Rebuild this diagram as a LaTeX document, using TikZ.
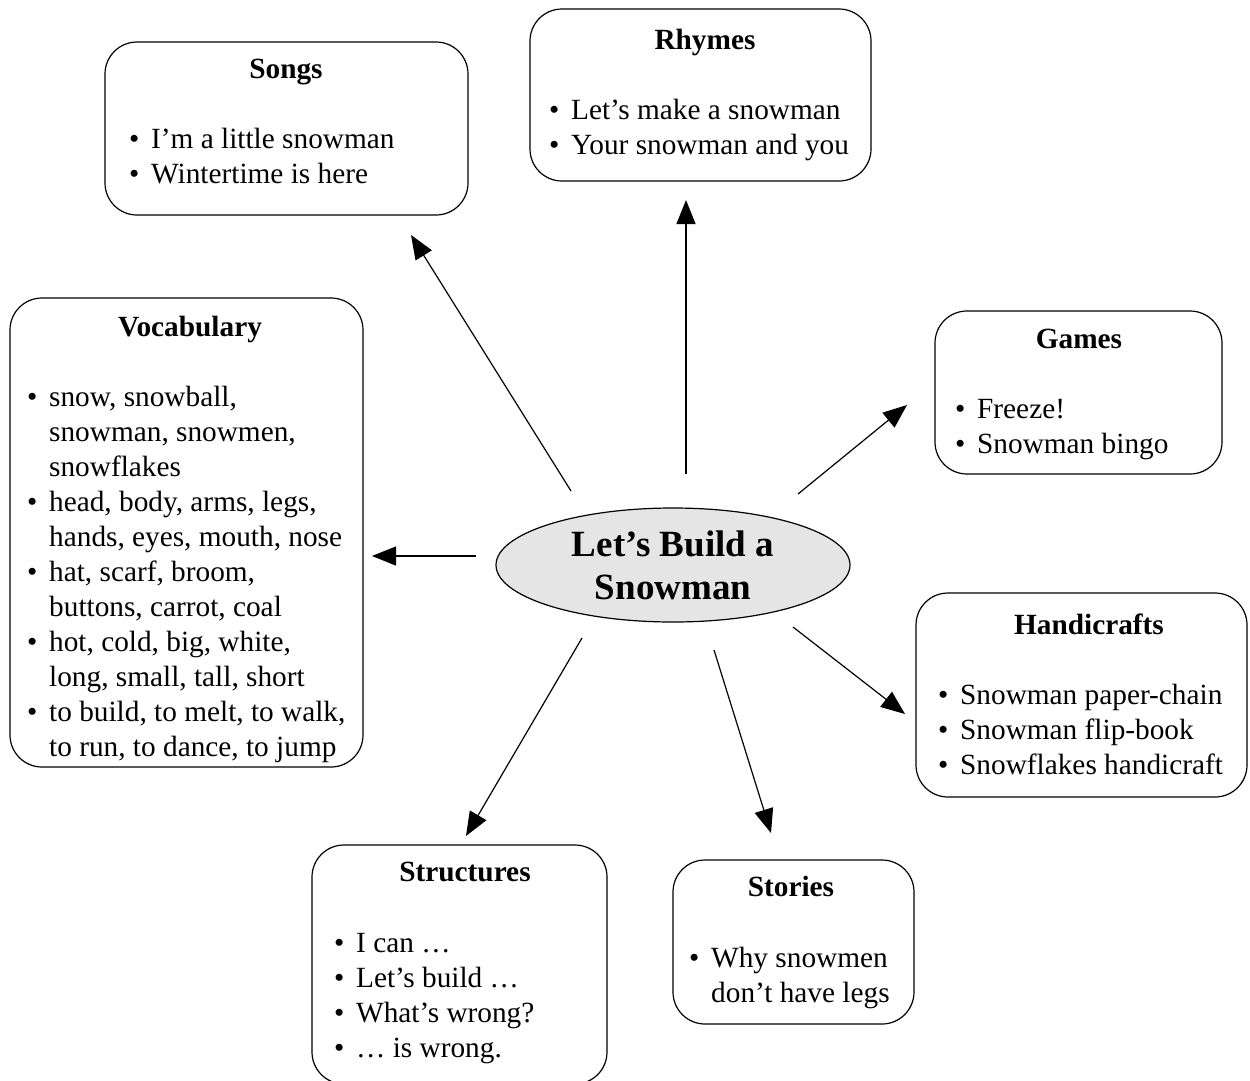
\documentclass[tikz,border=0pt]{standalone}
\usepackage{fontspec}
\setmainfont{Liberation Serif}
\usetikzlibrary{arrows.meta,shapes.geometric}
\newcommand\itm{\makebox[22pt][l]{•}}
\newcommand\cnt{\hspace*{22pt}}
\tikzset{
  every node/.style={font=\fontsize{29.3}{35}\selectfont, inner sep=0pt},
  box/.style={draw, line width=1.2pt, rounded corners=32pt, fill=white},
  ttl/.style={anchor=base, font=\fontsize{29.3}{35}\selectfont\bfseries},
  lst/.style={anchor=base west, align=left},
  arr/.style={line width=1.2pt, -{Triangle[length=24pt,width=19pt]}},
}
\begin{document}
\begin{tikzpicture}[x=1pt,y=-1pt]
\path[use as bounding box, clip] (0,0) rectangle (1250,1080);
\fill[white] (0,0) rectangle (1250,1080);

% Songs
\node[box, minimum width=363pt, minimum height=173pt] (songs) at (286.5,128.5) {};
\node[ttl] (songsT) at (286,78) {Songs};
\node[lst] (songsL) at (129,183) {\itm I’m a little snowman\\\itm Wintertime is here};

% Rhymes
\node[box, minimum width=341pt, minimum height=172pt] (rhymes) at (700.5,95) {};
\node[ttl] (rhymesT) at (705,49) {Rhymes};
\node[lst] (rhymesL) at (549,154) {\itm Let’s make a snowman\\\itm Your snowman and you};

% Vocabulary
\node[box, minimum width=353pt, minimum height=469pt] (vocab) at (186.5,532.5) {};
\node[ttl] (vocabT) at (190,336) {Vocabulary};
\node[lst] (vocabL) at (27,756) {\itm snow, snowball,\\\cnt snowman, snowmen,\\\cnt snowflakes\\\itm head, body, arms, legs,\\\cnt hands, eyes, mouth, nose\\\itm hat, scarf, broom,\\\cnt buttons, carrot, coal\\\itm hot, cold, big, white,\\\cnt long, small, tall, short\\\itm to build, to melt, to walk,\\\cnt to run, to dance, to jump};

% Games
\node[box, minimum width=287pt, minimum height=163pt] (games) at (1078.5,392.5) {};
\node[ttl] (gamesT) at (1079,348) {Games};
\node[lst] (gamesL) at (955,453) {\itm Freeze!\\\itm Snowman bingo};

% Handicrafts
\node[box, minimum width=331pt, minimum height=204pt] (handi) at (1081.5,695) {};
\node[ttl] (handiT) at (1089,634) {Handicrafts};
\node[lst] (handiL) at (938,774) {\itm Snowman paper-chain\\\itm Snowman flip-book\\\itm Snowflakes handicraft};

% Structures
\node[box, minimum width=295pt, minimum height=239pt] (struct) at (459.5,964.5) {};
\node[ttl] (structT) at (465,881) {Structures};
\node[lst] (structL) at (334,1057) {\itm I can …\\\itm Let’s build …\\\itm What’s wrong?\\\itm … is wrong.};

% Stories
\node[box, minimum width=241pt, minimum height=164pt] (stories) at (793.5,942) {};
\node[ttl] (storiesT) at (791,896) {Stories};
\node[lst] (storiesL) at (689,1002) {\itm Why snowmen\\\cnt don’t have legs};

% Centre
\node[ellipse, draw, line width=1.2pt, fill=black!10, minimum width=354pt, minimum height=114pt,
      align=center, font=\fontsize{37}{43}\selectfont\bfseries] (centre) at (673,565) {Let’s Build a\\Snowman};

% Arrow end points
\coordinate (sSongs) at (571,491);   \coordinate (eSongs) at (411,235);
\coordinate (sRhymes) at (686,474);  \coordinate (eRhymes) at (686,200);
\coordinate (sGames) at (798,494);   \coordinate (eGames) at (907,405);
\coordinate (sVocab) at (476,556);   \coordinate (eVocab) at (372,556);
\coordinate (sHandi) at (793,627);   \coordinate (eHandi) at (905,714);
\coordinate (sStruct) at (582,638);  \coordinate (eStruct) at (466,836);
\coordinate (sStories) at (714,650); \coordinate (eStories) at (771,833);

\draw[arr] (sSongs) -- (eSongs);
\draw[arr] (sRhymes) -- (eRhymes);
\draw[arr] (sGames) -- (eGames);
\draw[arr] (sVocab) -- (eVocab);
\draw[arr] (sHandi) -- (eHandi);
\draw[arr] (sStruct) -- (eStruct);
\draw[arr] (sStories) -- (eStories);
\end{tikzpicture}
\end{document}
